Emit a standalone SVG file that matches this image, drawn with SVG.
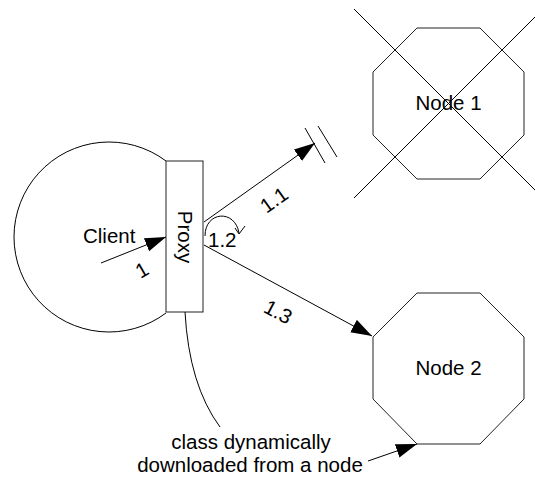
<svg xmlns="http://www.w3.org/2000/svg" width="535" height="480" viewBox="0 0 535 480">
<style>
.s{fill:none;stroke:#000;stroke-width:1}
.n{fill:#fff;stroke:#222;stroke-width:1}
.t{font-family:"Liberation Sans",Arial,sans-serif;font-size:20.5px;fill:#000}
.m{text-anchor:middle}
</style>
<defs>
<marker id="ah" markerUnits="userSpaceOnUse" markerWidth="24" markerHeight="16" refX="21" refY="7" orient="auto">
<path d="M0,0 L21,7 L0,14 z" fill="#000"/>
</marker>
</defs>
<rect width="535" height="480" fill="#fff"/>
<g id="client">
<path class="s" d="M166,161 A95,95 0 1 0 166,313"/>
<text class="t" x="83" y="243">Client</text>
</g>
<g id="proxy">
<rect class="n" x="166" y="161" width="37" height="151"/>
<text class="t m" transform="translate(178,237) rotate(90)">Proxy</text>
</g>
<g id="node1">
<polygon class="n" points="417,28 480,28 524,72 524,135 480,179 417,179 373,135 373,72"/>
<text class="t m" x="448.5" y="110">Node 1</text>
<line class="s" x1="354" y1="9" x2="543" y2="198"/>
<line class="s" x1="354" y1="198" x2="543" y2="9"/>
</g>
<g id="node2">
<polygon class="n" points="417,293 480,293 524,337 524,399 480,444 417,444 373,399 373,337"/>
<text class="t m" x="448.5" y="375">Node 2</text>
</g>
<g id="note">
<text class="t m" x="251" y="449">class dynamically</text>
<text class="t m" x="250" y="472">downloaded from a node</text>
</g>
<g id="connectors">
<line class="s" x1="101" y1="263" x2="166" y2="237" marker-end="url(#ah)"/>
<line class="s" x1="204" y1="222" x2="315" y2="143" marker-end="url(#ah)"/>
<line class="s" x1="305" y1="128" x2="325" y2="163"/>
<line class="s" x1="318" y1="126" x2="337" y2="157"/>
<line class="s" x1="204" y1="245" x2="372" y2="336" marker-end="url(#ah)"/>
<path class="s" d="M205,236 C205,211 235,209 239,233"/>
<path class="s" d="M235,228 L239,234 L245,226"/>
<path class="s" d="M185,312 Q189,385 220,427"/>
<line class="s" x1="368" y1="461" x2="417" y2="444" marker-end="url(#ah)"/>
<text class="t m" transform="translate(142,270) rotate(-30)" y="7">1</text>
<text class="t m" transform="translate(274,200) rotate(-35.7)" y="7">1.1</text>
<text class="t" x="208" y="247">1.2</text>
<text class="t m" transform="translate(278,312) rotate(28)" y="7">1.3</text>
</g>
</svg>
